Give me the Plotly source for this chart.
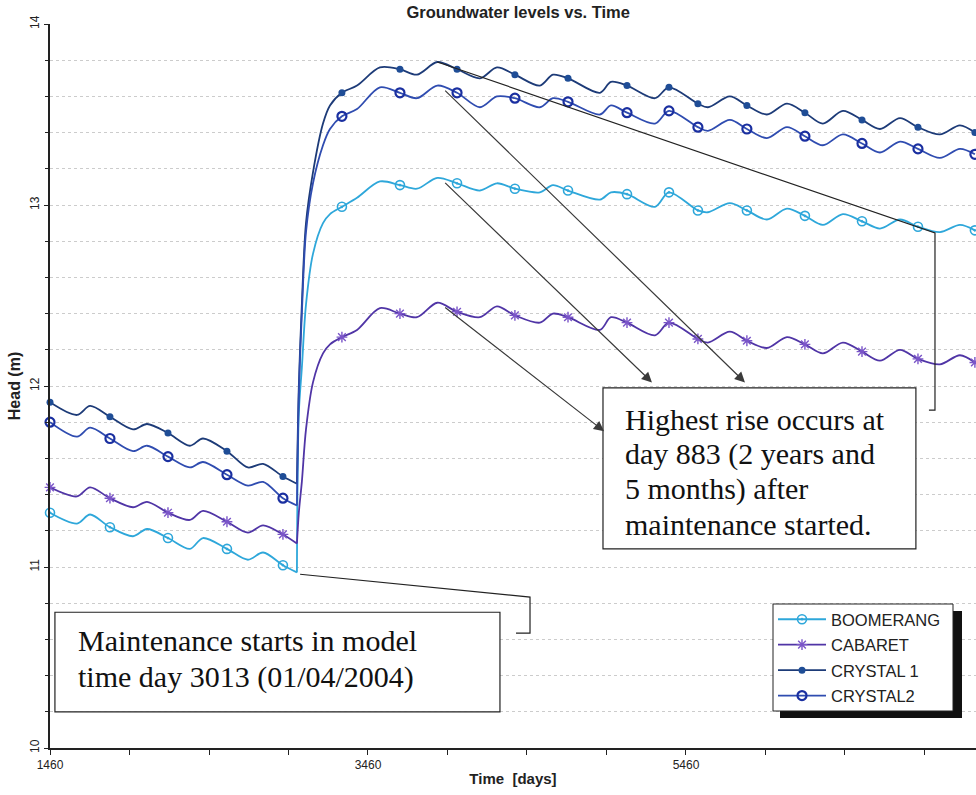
import plotly.graph_objects as go

# ---------------- data ----------------
DAYS = [1460, 1630, 1712, 1837, 1982, 2070, 2202, 2340, 2422, 2573, 2705, 2800, 2925, 3013,
        3025, 3044, 3070, 3114, 3177, 3221,
        3296, 3391, 3535, 3661, 3768, 3896, 4020, 4164, 4271, 4384, 4541, 4623, 4718, 4919,
        4988, 5089, 5265, 5353, 5535, 5598, 5736, 5843, 5969, 6095, 6208, 6321, 6447, 6567,
        6680, 6806, 6919, 7057, 7183, 7277]

MARKER_DAYS = [1460, 1837, 2202, 2573, 2925, 3296, 3661, 4020, 4384, 4718, 5089, 5353,
               5535, 5843, 6208, 6567, 6919, 7277]

BOOMERANG = [11.30, 11.24, 11.29, 11.22, 11.17, 11.21, 11.16, 11.10, 11.16, 11.10, 11.04, 11.08, 11.01, 10.97,
             11.85, 12.10, 12.45, 12.73, 12.90, 12.95,
             12.99, 13.04, 13.13, 13.11, 13.09, 13.15, 13.12, 13.08, 13.12, 13.09, 13.07, 13.11, 13.08, 13.03,
             13.07, 13.06, 12.99, 13.07, 12.97, 12.96, 13.01, 12.97, 12.92, 12.98, 12.94, 12.89, 12.95, 12.91,
             12.87, 12.92, 12.88, 12.85, 12.89, 12.86]

CABARET = [11.44, 11.39, 11.44, 11.38, 11.33, 11.36, 11.30, 11.26, 11.31, 11.25, 11.19, 11.23, 11.18, 11.13,
           11.30, 11.47, 11.76, 12.02, 12.18, 12.23,
           12.27, 12.31, 12.43, 12.40, 12.38, 12.46, 12.41, 12.38, 12.44, 12.39, 12.35, 12.40, 12.38, 12.31,
           12.38, 12.35, 12.28, 12.35, 12.26, 12.24, 12.30, 12.25, 12.21, 12.27, 12.23, 12.18, 12.24, 12.19,
           12.14, 12.20, 12.15, 12.12, 12.17, 12.13]

CRYSTAL1 = [11.91, 11.84, 11.89, 11.83, 11.76, 11.79, 11.74, 11.67, 11.71, 11.64, 11.55, 11.57, 11.50, 11.46,
            12.00, 12.45, 12.90, 13.18, 13.45, 13.55,
            13.62, 13.66, 13.76, 13.75, 13.72, 13.79, 13.75, 13.70, 13.76, 13.72, 13.66, 13.72, 13.70, 13.62,
            13.68, 13.66, 13.59, 13.65, 13.56, 13.54, 13.60, 13.55, 13.50, 13.56, 13.51, 13.45, 13.52, 13.47,
            13.42, 13.48, 13.43, 13.39, 13.44, 13.40]

CRYSTAL2 = [11.80, 11.72, 11.77, 11.71, 11.64, 11.67, 11.61, 11.55, 11.58, 11.51, 11.45, 11.47, 11.38, 11.34,
            11.95, 12.40, 12.85, 13.12, 13.33, 13.42,
            13.49, 13.53, 13.65, 13.62, 13.59, 13.66, 13.62, 13.54, 13.60, 13.59, 13.54, 13.59, 13.57, 13.50,
            13.55, 13.51, 13.45, 13.52, 13.43, 13.41, 13.47, 13.42, 13.37, 13.43, 13.38, 13.33, 13.39, 13.34,
            13.29, 13.35, 13.31, 13.26, 13.31, 13.28]

SERIES_NAMES = ["BOOMERANG", "CABARET", "CRYSTAL 1", "CRYSTAL2"]
X_TICKS = [1460, 3460, 5460, 7460]
Y_TICKS = [10, 11, 12, 13, 14]

MAINT_DAY = 3013
PEAK_DAY = 3896

# ---------------- styles ----------------
STYLES = {
    "BOOMERANG": dict(color="#2ea7da", symbol="circle-open-dot", msize=9, mline=1.6, mcolor="#2ea7da"),
    "CABARET": dict(color="#5035a6", symbol="asterisk-open", msize=9, mline=1.4, mcolor="#7a55c8"),
    "CRYSTAL 1": dict(color="#1d3b78", symbol="circle", msize=7, mline=0, mcolor="#1f4d96"),
    "CRYSTAL2": dict(color="#2f4cb0", symbol="circle-open", msize=9, mline=2.2, mcolor="#1a2fa0"),
}
DATA = {"BOOMERANG": BOOMERANG, "CABARET": CABARET, "CRYSTAL 1": CRYSTAL1, "CRYSTAL2": CRYSTAL2}

FONT = "Arial, Liberation Sans, sans-serif"
SERIF = "Times New Roman, Liberation Serif, serif"

split = DAYS.index(MAINT_DAY)

fig = go.Figure()
for name in SERIES_NAMES:
    st = STYLES[name]
    vals = DATA[name]
    # before and after maintenance drawn as two smooth pieces joined at the maintenance day
    for sl in (slice(0, split + 1), slice(split, None)):
        fig.add_trace(go.Scatter(
            x=DAYS[sl], y=vals[sl], mode="lines",
            line=dict(color=st["color"], width=1.8, shape="spline", smoothing=0.9),
            showlegend=False, legendgroup=name, hoverinfo="skip"))
    mx = [d for d in DAYS if d in MARKER_DAYS]
    my = [v for d, v in zip(DAYS, vals) if d in MARKER_DAYS]
    fig.add_trace(go.Scatter(
        x=mx, y=my, mode="markers", cliponaxis=False,
        marker=dict(symbol=st["symbol"], size=st["msize"], color=st["mcolor"],
                    line=dict(width=st["mline"], color=st["mcolor"])),
        showlegend=False, legendgroup=name))
    fig.add_trace(go.Scatter(
        x=[None], y=[None], mode="lines+markers", name=name, legendgroup=name,
        line=dict(color=st["color"], width=1.8),
        marker=dict(symbol=st["symbol"], size=st["msize"], color=st["mcolor"],
                    line=dict(width=st["mline"], color=st["mcolor"]))))

# ---------------- annotations / callouts ----------------
def val_at(series, day):
    return series[DAYS.index(day)]

shapes = []
annotations = []

# Maintenance box
shapes.append(dict(type="rect", xref="x", yref="y", x0=1491, x1=4290, y0=10.20, y1=10.75,
                   line=dict(color="#222", width=1.2), fillcolor="white", layer="above"))
for i, line in enumerate(["Maintenance starts in model", "time day 3013 (01/04/2004)"]):
    annotations.append(dict(xref="x", yref="y", x=1625, y=[10.595, 10.395][i], text=line,
                            showarrow=False, xanchor="left", yanchor="middle",
                            font=dict(family=SERIF, size=30, color="#111")))
# Maintenance connector
b_bot = val_at(BOOMERANG, MAINT_DAY)
shapes.append(dict(type="path", xref="x", yref="y",
                   path=f"M {MAINT_DAY + 20},{b_bot - 0.01} L 4479,10.834 L 4479,10.635 L 4391,10.635",
                   line=dict(color="#222", width=1.2)))

# Highest rise box
shapes.append(dict(type="rect", xref="x", yref="y", x0=4938, x1=6906, y0=11.10, y1=11.99,
                   line=dict(color="#222", width=1.2), fillcolor="white", layer="above"))
hl = ["Highest rise occurs at", "day 883 (2 years and", "5 months) after", "maintenance started."]
hy = [11.815, 11.622, 11.43, 11.237]
for line, yy in zip(hl, hy):
    annotations.append(dict(xref="x", yref="y", x=5065, y=yy, text=line, showarrow=False,
                            xanchor="left", yanchor="middle",
                            font=dict(family=SERIF, size=30, color="#111")))

# CRYSTAL 1 bracket line
c1_peak = val_at(CRYSTAL1, PEAK_DAY)
shapes.append(dict(type="path", xref="x", yref="y",
                   path=f"M {PEAK_DAY},{c1_peak} L 7026,12.845 L 7026,11.867 L 6988,11.867",
                   line=dict(color="#222", width=1.2)))

# arrows from peaks to box
arrows = [(CRYSTAL2, 5831, 12.02), (BOOMERANG, 5246, 12.02), (CABARET, 4945, 11.75)]
for series, hx, hy_ in arrows:
    annotations.append(dict(xref="x", yref="y", axref="x", ayref="y",
                            x=hx, y=hy_, ax=PEAK_DAY + 40, ay=val_at(series, PEAK_DAY) - 0.02,
                            text="", showarrow=True, arrowhead=2, arrowsize=1.7, arrowwidth=1.2,
                            arrowcolor="#3a3a3a"))

# legend frame with drop shadow (pixel positions -> paper fractions)
def px_x(p):
    return (p - 50) / 926


def px_y(p):
    return (748 - p) / 724


shapes.append(dict(type="rect", xref="paper", yref="paper",
                   x0=px_x(780), x1=px_x(962), y0=px_y(718), y1=px_y(611),
                   fillcolor="#111", line=dict(width=0), layer="above"))
shapes.append(dict(type="rect", xref="paper", yref="paper",
                   x0=px_x(773), x1=px_x(953), y0=px_y(711), y1=px_y(604),
                   fillcolor="white", line=dict(color="#222", width=1), layer="above"))

fig.update_layout(
    width=976, height=795, autosize=False,
    margin=dict(l=50, r=0, t=24, b=47),
    paper_bgcolor="white", plot_bgcolor="white",
    title=dict(text="<b>Groundwater levels vs. Time</b>", xref="container", yref="container",
               x=0.531, y=1 - 12 / 795, xanchor="center", yanchor="middle",
               font=dict(family=FONT, size=16.5, color="#222")),
    font=dict(family=FONT, size=12, color="#222"),
    xaxis=dict(range=[1460, 7284], tickvals=X_TICKS, ticktext=[str(v) for v in X_TICKS],
               ticks="outside", ticklen=5, tickcolor="#222", showgrid=False, zeroline=False,
               showline=True, linecolor="#222", linewidth=1.5,
               minor=dict(tick0=1460, dtick=500, ticks="outside", ticklen=5, tickcolor="#222"),
               title=dict(text="<b>Time  [days]</b>", font=dict(family=FONT, size=15), standoff=2),
               tickfont=dict(family=FONT, size=12, color="#222")),
    yaxis=dict(range=[10, 14], tickvals=Y_TICKS, tickangle=-90, ticks="outside", ticklen=4,
               tickcolor="#222", showline=True, linecolor="#222", linewidth=2, zeroline=False,
               showgrid=True, gridcolor="#cccccc", griddash="dot", gridwidth=1,
               minor=dict(dtick=0.2, ticks="outside", ticklen=3, tickcolor="#222",
                          showgrid=True, gridcolor="#cccccc", griddash="dot", gridwidth=1),
               title=dict(text="<b>Head (m)</b>", font=dict(family=FONT, size=16), standoff=4),
               tickfont=dict(family=FONT, size=12, color="#222")),
    legend=dict(x=px_x(773), y=px_y(602), xanchor="left", yanchor="top",
                bgcolor="rgba(0,0,0,0)", borderwidth=0, itemwidth=48,
                font=dict(family=FONT, size=16.5, color="#222"), tracegroupgap=1,
                traceorder="grouped"),
    shapes=shapes, annotations=annotations,
)

fig.write_html("out.html", config={"displayModeBar": False},
               post_script="document.body.style.margin='0';document.body.style.overflow='hidden';")
